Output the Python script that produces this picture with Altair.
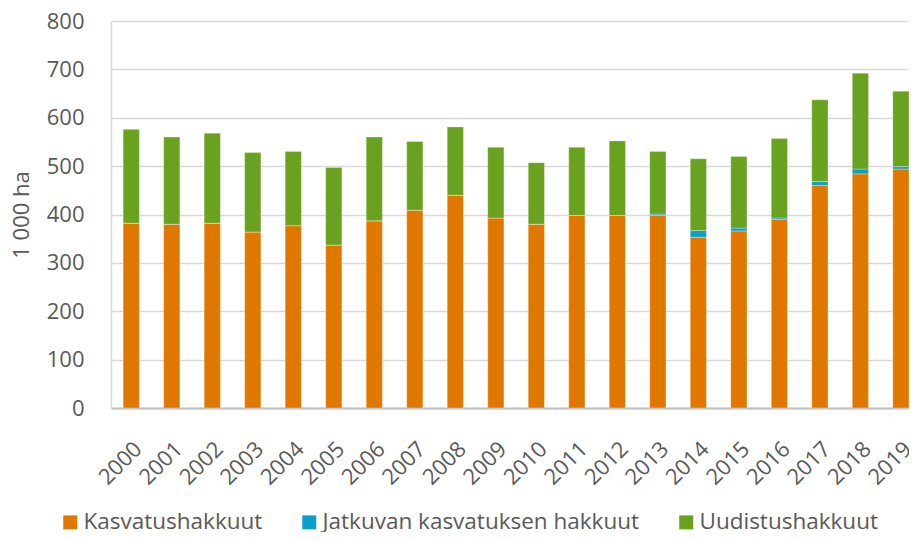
import altair as alt
import pandas as pd

years = [str(y) for y in range(2000, 2020)]
kasvatus = [382, 380, 382, 364, 377, 337, 387, 409, 440, 393, 380, 398, 398, 398, 353, 366, 390, 460, 484, 494]
jatkuva = [0, 0, 0, 0, 0, 0, 0, 0, 0, 0, 0, 0, 0, 3, 14, 6, 3, 8, 10, 5]
uudistus = [194, 180, 186, 164, 153, 160, 173, 142, 141, 146, 127, 141, 154, 129, 148, 148, 164, 169, 198, 156]

series = ["Kasvatushakkuut", "Jatkuvan kasvatuksen hakkuut", "Uudistushakkuut"]
colors = ["#E07800", "#0AA0C8", "#68A21E"]

rows = []
for i, y in enumerate(years):
    for k, (name, vals) in enumerate(zip(series, [kasvatus, jatkuva, uudistus])):
        rows.append({"year": y, "series": name, "value": vals[i], "order": k})
df = pd.DataFrame(rows)

FONT = "Open Sans"
GREY = "#595959"

chart = alt.Chart(df).mark_bar(stroke="#ffffff", strokeWidth=0.6, strokeOpacity=0.5).encode(
    x=alt.X("year:N", sort=years, title=None,
            scale=alt.Scale(paddingInner=0.6, paddingOuter=0.15, align=1),
            axis=alt.Axis(labelAngle=315, labelFontSize=22, labelColor=GREY, labelFont=FONT,
                          labelPadding=30, ticks=False, domain=True, domainColor="#bfbfbf",
                          domainWidth=2, grid=False)),
    y=alt.Y("value:Q", title="1 000 ha",
            scale=alt.Scale(domain=[0, 800], nice=False),
            axis=alt.Axis(values=[0, 100, 200, 300, 400, 500, 600, 700, 800],
                          labelFontSize=22, labelColor=GREY, labelFont=FONT, labelPadding=27,
                          ticks=False, domain=True, domainColor="#d9d9d9", domainWidth=1.5,
                          gridColor="#d9d9d9", gridWidth=1.5,
                          titleFontSize=22, titleColor=GREY, titleFont=FONT,
                          titleFontWeight="normal", titlePadding=13)),
    color=alt.Color("series:N", sort=series,
                    scale=alt.Scale(domain=series, range=colors),
                    legend=alt.Legend(title=None, orient="none", direction="horizontal",
                                      legendX=-52, legendY=490,
                                      symbolType="square", symbolSize=196, symbolStrokeWidth=0,
                                      labelFontSize=22.5, labelColor=GREY, labelFont=FONT,
                                      labelOffset=2, columnPadding=35, labelLimit=500)),
    order=alt.Order("order:Q", sort="ascending"),
).properties(
    width=798,
    height=387,
    autosize=alt.AutoSizeParams(type="none"),
    padding={"left": 103, "top": 13, "right": 0, "bottom": 124},
).configure_view(stroke=None)

chart.save("out.html", embed_options={"renderer": "svg", "actions": False})
